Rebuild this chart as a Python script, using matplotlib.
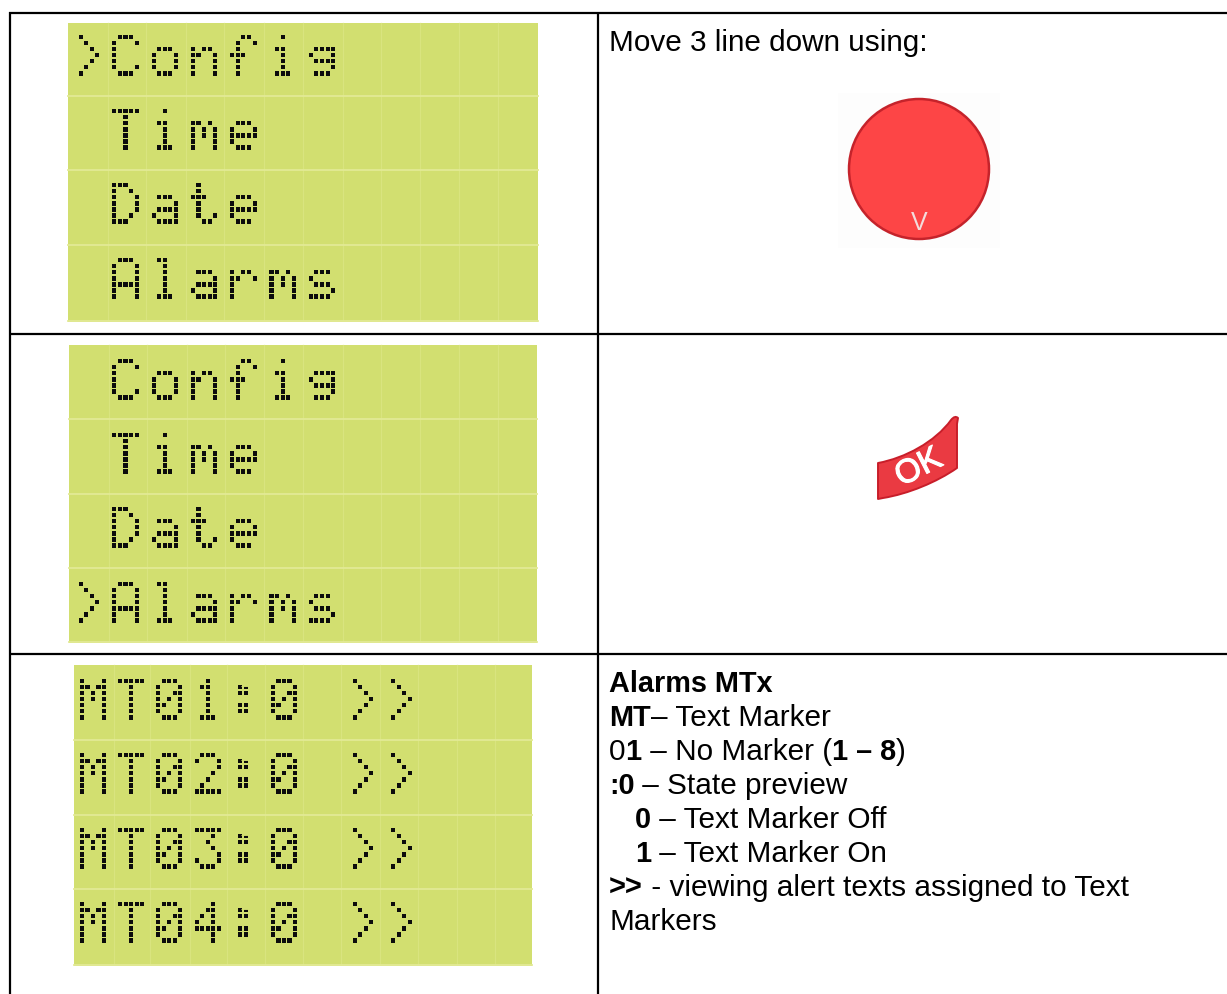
import matplotlib
matplotlib.use("Agg")
import matplotlib.pyplot as plt
import matplotlib.patheffects as pe
from matplotlib.patches import Rectangle, Circle, PathPatch
from matplotlib.path import Path

W, H = 1227, 994
panels = [
    dict(box=(68, 23, 538, 322), lines=[">Config", " Time", " Date", " Alarms"],
         x0=86.2, dx=39.3, px=5.6, rows=[36.7, 111, 185, 260], hlines=[96, 170, 245],
         vlines=[108, 146, 186, 224, 264, 303, 343, 381, 420, 459, 498]),
    dict(box=(69, 345, 537, 643), lines=[" Config", " Time", " Date", ">Alarms"],
         x0=86.2, dx=39.3, px=5.6, rows=[361, 435, 509, 584], hlines=[419, 494, 568],
         vlines=[109, 147, 187, 225, 264, 303, 343, 381, 420, 459, 498]),
    dict(box=(74, 665, 532, 966), lines=["MT01:0 >>", "MT02:0 >>", "MT03:0 >>", "MT04:0 >>"],
         x0=93, dx=38.2, px=5.5, rows=[680.7, 755, 830, 904], hlines=[740, 815, 889],
         vlines=[114, 150, 190, 227, 265, 303, 341, 380, 418, 457, 495]),
]
move_text = "Move 3 line down using:"
notes = [
    [("Alarms MTx", True)],
    [("MT", True), ("– Text Marker", False)],
    [("0", False), ("1", True), (" – No Marker (", False), ("1 – 8", True), (")", False)],
    [(":0", True), (" – State preview", False)],
    [("0", True), (" – Text Marker Off", False)],
    [("1", True), (" – Text Marker On", False)],
    [(">>", True), (" - viewing alert texts assigned to Text", False)],
    [("Markers", False)],
]
note_x = [609, 609, 609, 609, 635, 635, 609, 609]
note_base = [692, 726, 760, 794, 828, 862, 896, 930]

# 5x7 pixel patterns of the LCD's character generator
DOTS = {
    ">": ".#... ..#.. ...#. ....# ...#. ..#.. .#...",
    "C": ".###. #...# #.... #.... #.... #...# .###.",
    "o": "..... ..... .###. #...# #...# #...# .###.",
    "n": "..... ..... #.##. ##..# #...# #...# #...#",
    "f": "..##. .#..# .#... ###.. .#... .#... .#...",
    "i": "..#.. ..... .##.. ..#.. ..#.. ..#.. .###.",
    "g": "..... ..... .#### #...# .#### ....# .###.",
    "T": "##### ..#.. ..#.. ..#.. ..#.. ..#.. ..#..",
    "m": "..... ..... ##.#. #.#.# #.#.# #...# #...#",
    "e": "..... ..... .###. #...# ##### #.... .###.",
    "D": "###.. #..#. #...# #...# #...# #..#. ###..",
    "a": "..... ..... .###. ....# .#### #...# .####",
    "t": ".#... .#... ###.. .#... .#... .#..# ..##.",
    "A": ".###. #...# #...# #...# ##### #...# #...#",
    "l": ".##.. ..#.. ..#.. ..#.. ..#.. ..#.. .###.",
    "r": "..... ..... #.##. ##..# #.... #.... #....",
    "s": "..... ..... .###. #.... .###. ....# ####.",
    "M": "#...# ##.## #.#.# #.#.# #...# #...# #...#",
    "0": ".###. #...# #..## #.#.# ##..# #...# .###.",
    "1": "..#.. .##.. ..#.. ..#.. ..#.. ..#.. .###.",
    "2": ".###. #...# ....# ...#. ..#.. .#... #####",
    "3": "##### ...#. ..#.. ...#. ....# #...# .###.",
    "4": "...#. ..##. .#.#. #..#. ##### ...#. ...#.",
    ":": "..... .##.. .##.. ..... .##.. .##.. .....",
}

LCD = "#d2df70"
LCD_V = "#d9e47f"
LCD_H = "#e2ea95"
RED = "#fd4546"
DOT_W = 4.1
DOT_H = 4.4
PY = 6.1

fig = plt.figure(figsize=(W / 100, H / 100), dpi=100)
ax = fig.add_axes([0, 0, 1, 1])
ax.set_xlim(0, W)
ax.set_ylim(H, 0)
ax.axis("off")

for x in (9.5, 598.3):
    ax.plot([x, x], [12, H], color="black", lw=1.6, solid_capstyle="butt")
for y in (12.5, 334, 654):
    ax.plot([9, W], [y, y], color="black", lw=1.6, solid_capstyle="butt")


def dot_mask(ch, cx, y0, px):
    verts, codes = [], []
    for r, row in enumerate(DOTS[ch].split()):
        for c, on in enumerate(row):
            if on == "#":
                x = cx + (c - 2) * px - DOT_W / 2
                y = y0 + r * PY - DOT_H / 2
                verts += [(x, y), (x + DOT_W, y), (x + DOT_W, y + DOT_H), (x, y + DOT_H), (x, y)]
                codes += [Path.MOVETO, Path.LINETO, Path.LINETO, Path.LINETO, Path.CLOSEPOLY]
    return Path(verts, codes)


for p in panels:
    x1, y1, x2, y2 = p["box"]
    ax.add_patch(Rectangle((x1, y1), x2 - x1, y2 - y1, fc=LCD, ec="none", zorder=1))
    for x in p["vlines"]:
        ax.plot([x, x], [y1, y2 - 2], color=LCD_V, lw=0.9, zorder=2)
    for y in p["hlines"]:
        ax.plot([x1, x2], [y, y], color=LCD_H, lw=1.3, zorder=2)
    ax.plot([x1, x2], [y2 - 1, y2 - 1], color=LCD_H, lw=1.3, zorder=2)
    for line, y0 in zip(p["lines"], p["rows"]):
        for c, ch in enumerate(line):
            if ch == " ":
                continue
            cx = p["x0"] + c * p["dx"]
            # the real glyph, seen through the LCD's pixel pattern
            t = ax.text(cx, y0 + 3 * PY, ch, family="DejaVu Sans Mono", weight="bold", fontsize=38,
                        ha="center", va="center", color="#0c0c0c", zorder=3,
                        path_effects=[pe.withStroke(linewidth=26, foreground="#0c0c0c")])
            t.set_clip_path(dot_mask(ch, cx, y0, p["px"]), ax.transData)
            t.set_clip_on(True)

FS = 21.4
FS_B = 20.8
ax.text(609, 51, move_text, family="Liberation Sans", fontsize=FS, color="black", va="baseline")
fig.canvas.draw()
rend = fig.canvas.get_renderer()


def width(s, bold):
    kw = dict(family="Liberation Sans", fontsize=FS_B if bold else FS, weight="bold" if bold else "normal")
    a, b = ax.text(0, 0, "|" + s + "|", **kw), ax.text(0, 0, "||", **kw)
    d = a.get_window_extent(rend).width - b.get_window_extent(rend).width
    a.remove()
    b.remove()
    return d


for runs, x, y in zip(notes, note_x, note_base):
    for s, bold in runs:
        ax.text(x, y, s, family="Liberation Sans", fontsize=FS_B if bold else FS, va="baseline",
                weight="bold" if bold else "normal", color="black")
        x += width(s, bold)

# round button
ax.add_patch(Rectangle((838, 93), 162, 155, fc="#fdfdfd", ec="none", zorder=2))
ax.add_patch(Circle((919, 169), 70, fc=RED, ec="#c5232b", lw=1.8, zorder=3))
ax.text(919, 223, "V", family="Liberation Sans", fontsize=18, color="#f3dcdc",
        ha="center", va="center", zorder=4)

# OK key
verts = [(878, 463), (905, 458), (935, 442), (951, 420), (955, 415), (958, 418), (957, 424),
         (957, 468), (937, 482), (908, 494), (883, 498), (878, 499), (878, 463)]
codes = [Path.MOVETO, Path.CURVE4, Path.CURVE4, Path.CURVE4, Path.CURVE3, Path.CURVE3, Path.LINETO,
         Path.LINETO, Path.CURVE4, Path.CURVE4, Path.CURVE4, Path.LINETO, Path.CLOSEPOLY]
ax.add_patch(PathPatch(Path(verts, codes), fc="#ea3a42", ec="#c81e2a", lw=1.4, joinstyle="round", zorder=3))
ax.text(919, 468, "OK", family="Liberation Sans", fontsize=24, color="white", rotation=27,
        ha="center", va="center", rotation_mode="anchor", zorder=4,
        path_effects=[pe.withStroke(linewidth=0.8, foreground="white")])

fig.savefig("out.png", dpi=100)
